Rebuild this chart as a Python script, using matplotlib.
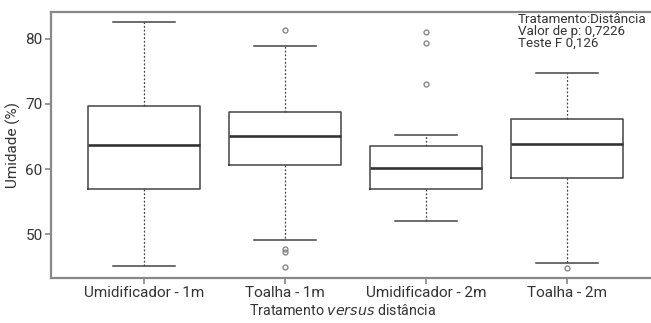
import matplotlib
matplotlib.use("Agg")
import matplotlib.pyplot as plt

plt.rcParams['font.family'] = ['Roboto', 'DejaVu Sans']

categorias = ['Umidificador - 1m', 'Toalha - 1m', 'Umidificador - 2m', 'Toalha - 2m']
whislo = [45.1, 49.2, 52.1, 45.6]
q1 = [57.0, 60.7, 57.0, 58.7]
med = [63.7, 65.1, 60.2, 63.8]
q3 = [69.7, 68.8, 63.5, 67.7]
whishi = [82.6, 78.9, 65.3, 74.8]
outliers = [[], [81.3, 47.7, 47.3, 45.0], [81.0, 79.4, 73.1], [44.9]]

stats = []
for i in range(len(categorias)):
    stats.append({'label': categorias[i], 'whislo': whislo[i], 'q1': q1[i],
                  'med': med[i], 'q3': q3[i], 'whishi': whishi[i],
                  'fliers': outliers[i]})

fig = plt.figure(figsize=(6.51, 3.23), dpi=100)
ax = fig.add_axes([51/651, 45/323, 609/651, 266/323])

cor = '#444444'
ax.bxp(stats, positions=[1, 2, 3, 4], widths=0.8, showfliers=True,
       boxprops=dict(color=cor, linewidth=1.1),
       medianprops=dict(color='#333333', linewidth=1.9),
       whiskerprops=dict(color=cor, linewidth=0.9, linestyle=(0, (1.5, 1.5))),
       capprops=dict(color=cor, linewidth=1.1),
       capwidths=0.44,
       flierprops=dict(marker='o', markersize=3.5, markerfacecolor='none',
                       markeredgecolor='#888888', markeredgewidth=1.0))

ax.set_xlim(0.34, 4.66)
ax.set_ylim(43.3, 84.1)
ax.set_yticks([50, 60, 70, 80])
for s in ax.spines.values():
    s.set_color('#888888')
    s.set_linewidth(1.6)
ax.tick_params(axis='both', colors='#888888', length=4, width=1.2, labelsize=11,
               labelcolor='#333333', pad=2)

ax.set_ylabel('Umidade (%)', fontsize=11, color='#333333', labelpad=3)
ax.set_xlabel('Tratamento $\\it{versus}$ distância', fontsize=10.3, color='#333333',
              labelpad=2)
ax.xaxis.label.set_x((343 - 51) / 609)

ax.text(518 / 651, 1 - 13 / 323, 'Tratamento:Distância\nValor de p: 0,7226\nTeste F 0,126',
        transform=fig.transFigure, ha='left', va='top', fontsize=9.6,
        color='#333333', linespacing=0.9)

fig.savefig('out.png', dpi=100)
